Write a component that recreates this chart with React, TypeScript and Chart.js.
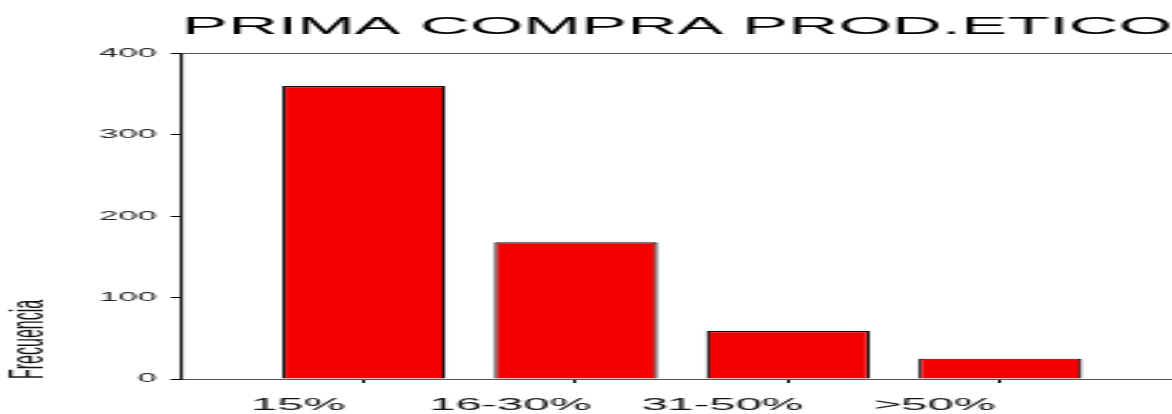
import React, { useEffect, useRef } from "react";
import { Chart, registerables } from "chart.js";

Chart.register(...registerables);

const chartTitle = "PRIMA COMPRA PROD.ETICO";
const yAxisTitle = "Frecuencia";
const categories = ["15%", "16-30%", "31-50%", ">50%"];
const frequencies = [360, 168, 59, 25];
const yTickValues = [0, 100, 200, 300, 400];

const PAGE_W = 1172;
const PAGE_H = 414;
const BASE_W = 411;
const STRETCH = PAGE_W / BASE_W;

export default function App() {
  const ref = useRef<HTMLCanvasElement | null>(null);

  useEffect(() => {
    const canvas = ref.current;
    if (!canvas) return;
    const chart = new Chart(canvas, {
      type: "bar",
      data: {
        datasets: [
          {
            label: yAxisTitle,
            data: frequencies.map((v, i) => ({ x: i + 1, y: v })),
            backgroundColor: "rgb(245,0,0)",
            borderColor: "#111",
            borderWidth: 1.2,
            categoryPercentage: 1,
            barPercentage: 0.77,
          },
        ],
      },
      options: {
        responsive: false,
        animation: false,
        devicePixelRatio: 1,
        layout: { padding: 0 },
        plugins: {
          legend: { display: false },
          tooltip: { enabled: false },
          title: {
            display: true,
            text: chartTitle,
            fullSize: false,
            color: "#000",
            font: { family: "Liberation Sans", size: 24.5, weight: "normal" },
            padding: { top: 13, bottom: 11 },
          },
        },
        scales: {
          x: {
            type: "linear",
            min: 0.143,
            max: 4.81,
            offset: false,
            afterBuildTicks: (scale: any) => {
              scale.ticks = categories.map((_, i) => ({ value: i + 1 }));
            },
            afterFit: (scale: any) => {
              scale.height = 35;
            },
            ticks: {
              includeBounds: false,
              autoSkip: false,
              maxRotation: 0,
              padding: 13,
              labelOffset: -23,
              color: "#111",
              font: { family: "Liberation Sans", size: 16.5 },
              callback: (value: any) => categories[Math.round(Number(value)) - 1] ?? "",
            },
            grid: {
              display: true,
              offset: false,
              drawOnChartArea: false,
              drawTicks: true,
              tickLength: 4,
              tickColor: "#000",
              color: "#000",
            },
            border: { display: true, color: "#555", width: 1 },
          },
          y: {
            type: "linear",
            min: 0,
            max: 400,
            afterBuildTicks: (scale: any) => {
              scale.ticks = yTickValues.map((v) => ({ value: v }));
            },
            afterFit: (scale: any) => {
              scale.width = 63.8;
            },
            ticks: {
              padding: 5,
              color: "#222",
              font: { family: "Liberation Sans", size: 12 },
            },
            grid: {
              display: true,
              drawTicks: true,
              tickLength: 4,
              tickColor: "#000",
              color: (ctx: any) =>
                ctx.tick && ctx.tick.value === 400 ? "#555" : "rgba(0,0,0,0)",
            },
            border: { display: true, color: "#111", width: 1.1 },
            title: {
              display: true,
              text: yAxisTitle,
              align: "start",
              color: "#111",
              font: { family: "Liberation Sans", size: 16 },
              padding: { top: 1, bottom: 9.6 },
            },
          },
        },
      },
    });
    return () => chart.destroy();
  }, []);

  return (
    <div
      style={{
        position: "absolute",
        left: 0,
        top: 0,
        width: PAGE_W,
        height: PAGE_H,
        overflow: "hidden",
        background: "#fff",
      }}
    >
      <canvas
        ref={ref}
        width={BASE_W}
        height={PAGE_H}
        style={{
          display: "block",
          transform: `scaleX(${STRETCH})`,
          transformOrigin: "0 0",
        }}
      />
    </div>
  );
}
